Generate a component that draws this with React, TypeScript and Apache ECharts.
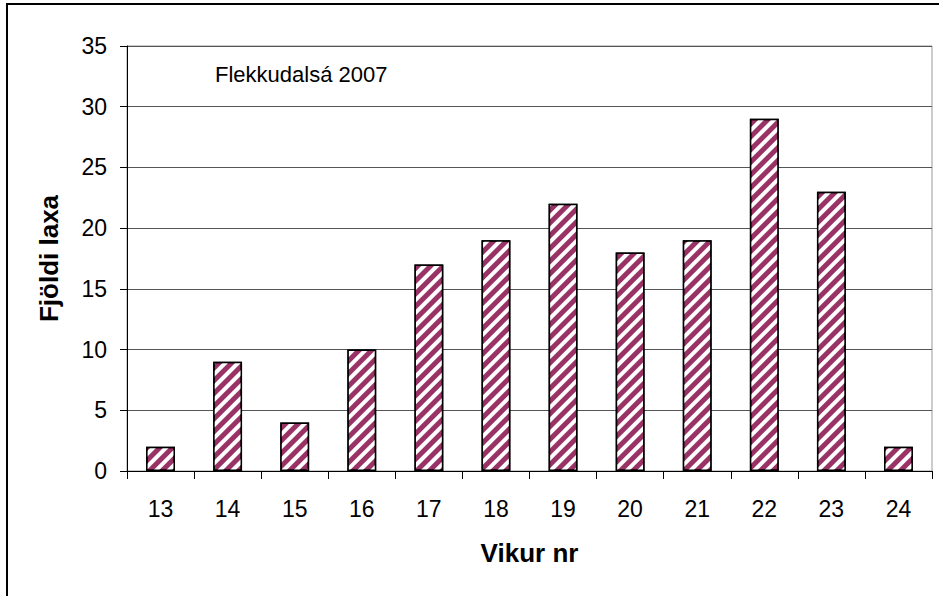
import React, { useEffect, useRef } from "react";
import * as echarts from "echarts";

const weeks = ["13", "14", "15", "16", "17", "18", "19", "20", "21", "22", "23", "24"];
const counts = [2, 9, 4, 10, 17, 19, 22, 18, 19, 29, 23, 2];
const chartTitle = "Flekkudalsá 2007";
const yName = "Fjöldi laxa";
const xName = "Vikur nr";

export default function App() {
  const ref = useRef<HTMLDivElement>(null);
  useEffect(() => {
    if (!ref.current) return;
    const chart = echarts.init(ref.current, null, { renderer: "svg" });
    const font = "'Liberation Sans', Arial, sans-serif";
    chart.setOption({
      animation: false,
      aria: { enabled: true, decal: { show: true } },
      textStyle: { fontFamily: font },
      grid: {
        left: 127,
        right: 7,
        top: 46,
        bottom: 125,
        show: true,
        borderColor: "#999",
        borderWidth: 1,
      },
      graphic: [
        {
          type: "rect",
          shape: { x: 7, y: 4, width: 1200, height: 1000 },
          style: { fill: "none", stroke: "#000", lineWidth: 2 },
          silent: true,
        },
        {
          type: "text",
          left: 215,
          top: 63,
          style: { text: chartTitle, fontSize: 22, fontFamily: font, fill: "#000" },
        },
      ],
      xAxis: {
        type: "category",
        data: weeks,
        name: xName,
        nameLocation: "middle",
        nameGap: 69,
        nameTextStyle: { fontSize: 26, fontWeight: "bold", color: "#000", fontFamily: font },
        axisLine: { lineStyle: { color: "#000", width: 1 } },
        axisTick: { show: true, alignWithLabel: false, length: 8, lineStyle: { color: "#000" } },
        axisLabel: { fontSize: 23, color: "#000", margin: 26, fontFamily: font },
        splitLine: { show: false },
      },
      yAxis: {
        type: "value",
        min: 0,
        max: 35,
        interval: 5,
        name: yName,
        nameLocation: "middle",
        nameGap: 65,
        nameTextStyle: { fontSize: 26, fontWeight: "bold", color: "#000", fontFamily: font },
        axisLine: { show: true, lineStyle: { color: "#000", width: 1 } },
        axisTick: { show: true, length: 7, lineStyle: { color: "#000" } },
        axisLabel: { fontSize: 23, color: "#000", margin: 20, fontFamily: font },
        splitLine: { show: true, lineStyle: { color: "#555", width: 1 } },
      },
      series: [
        {
          type: "bar",
          data: counts,
          barWidth: "43%",
          itemStyle: {
            color: "#993366",
            borderColor: "#000",
            borderWidth: 1.5,
            decal: {
              symbol: "rect",
              symbolSize: 1,
              color: "#ffffff",
              backgroundColor: null,
              dashArrayX: [1, 0],
              dashArrayY: [3.5, 5],
              rotation: -Math.PI / 4,
            },
          },
        },
      ],
    });
    return () => chart.dispose();
  }, []);
  return (
    <div
      ref={ref}
      style={{ position: "absolute", left: 0, top: 0, width: 939, height: 596, background: "#fff" }}
    />
  );
}
